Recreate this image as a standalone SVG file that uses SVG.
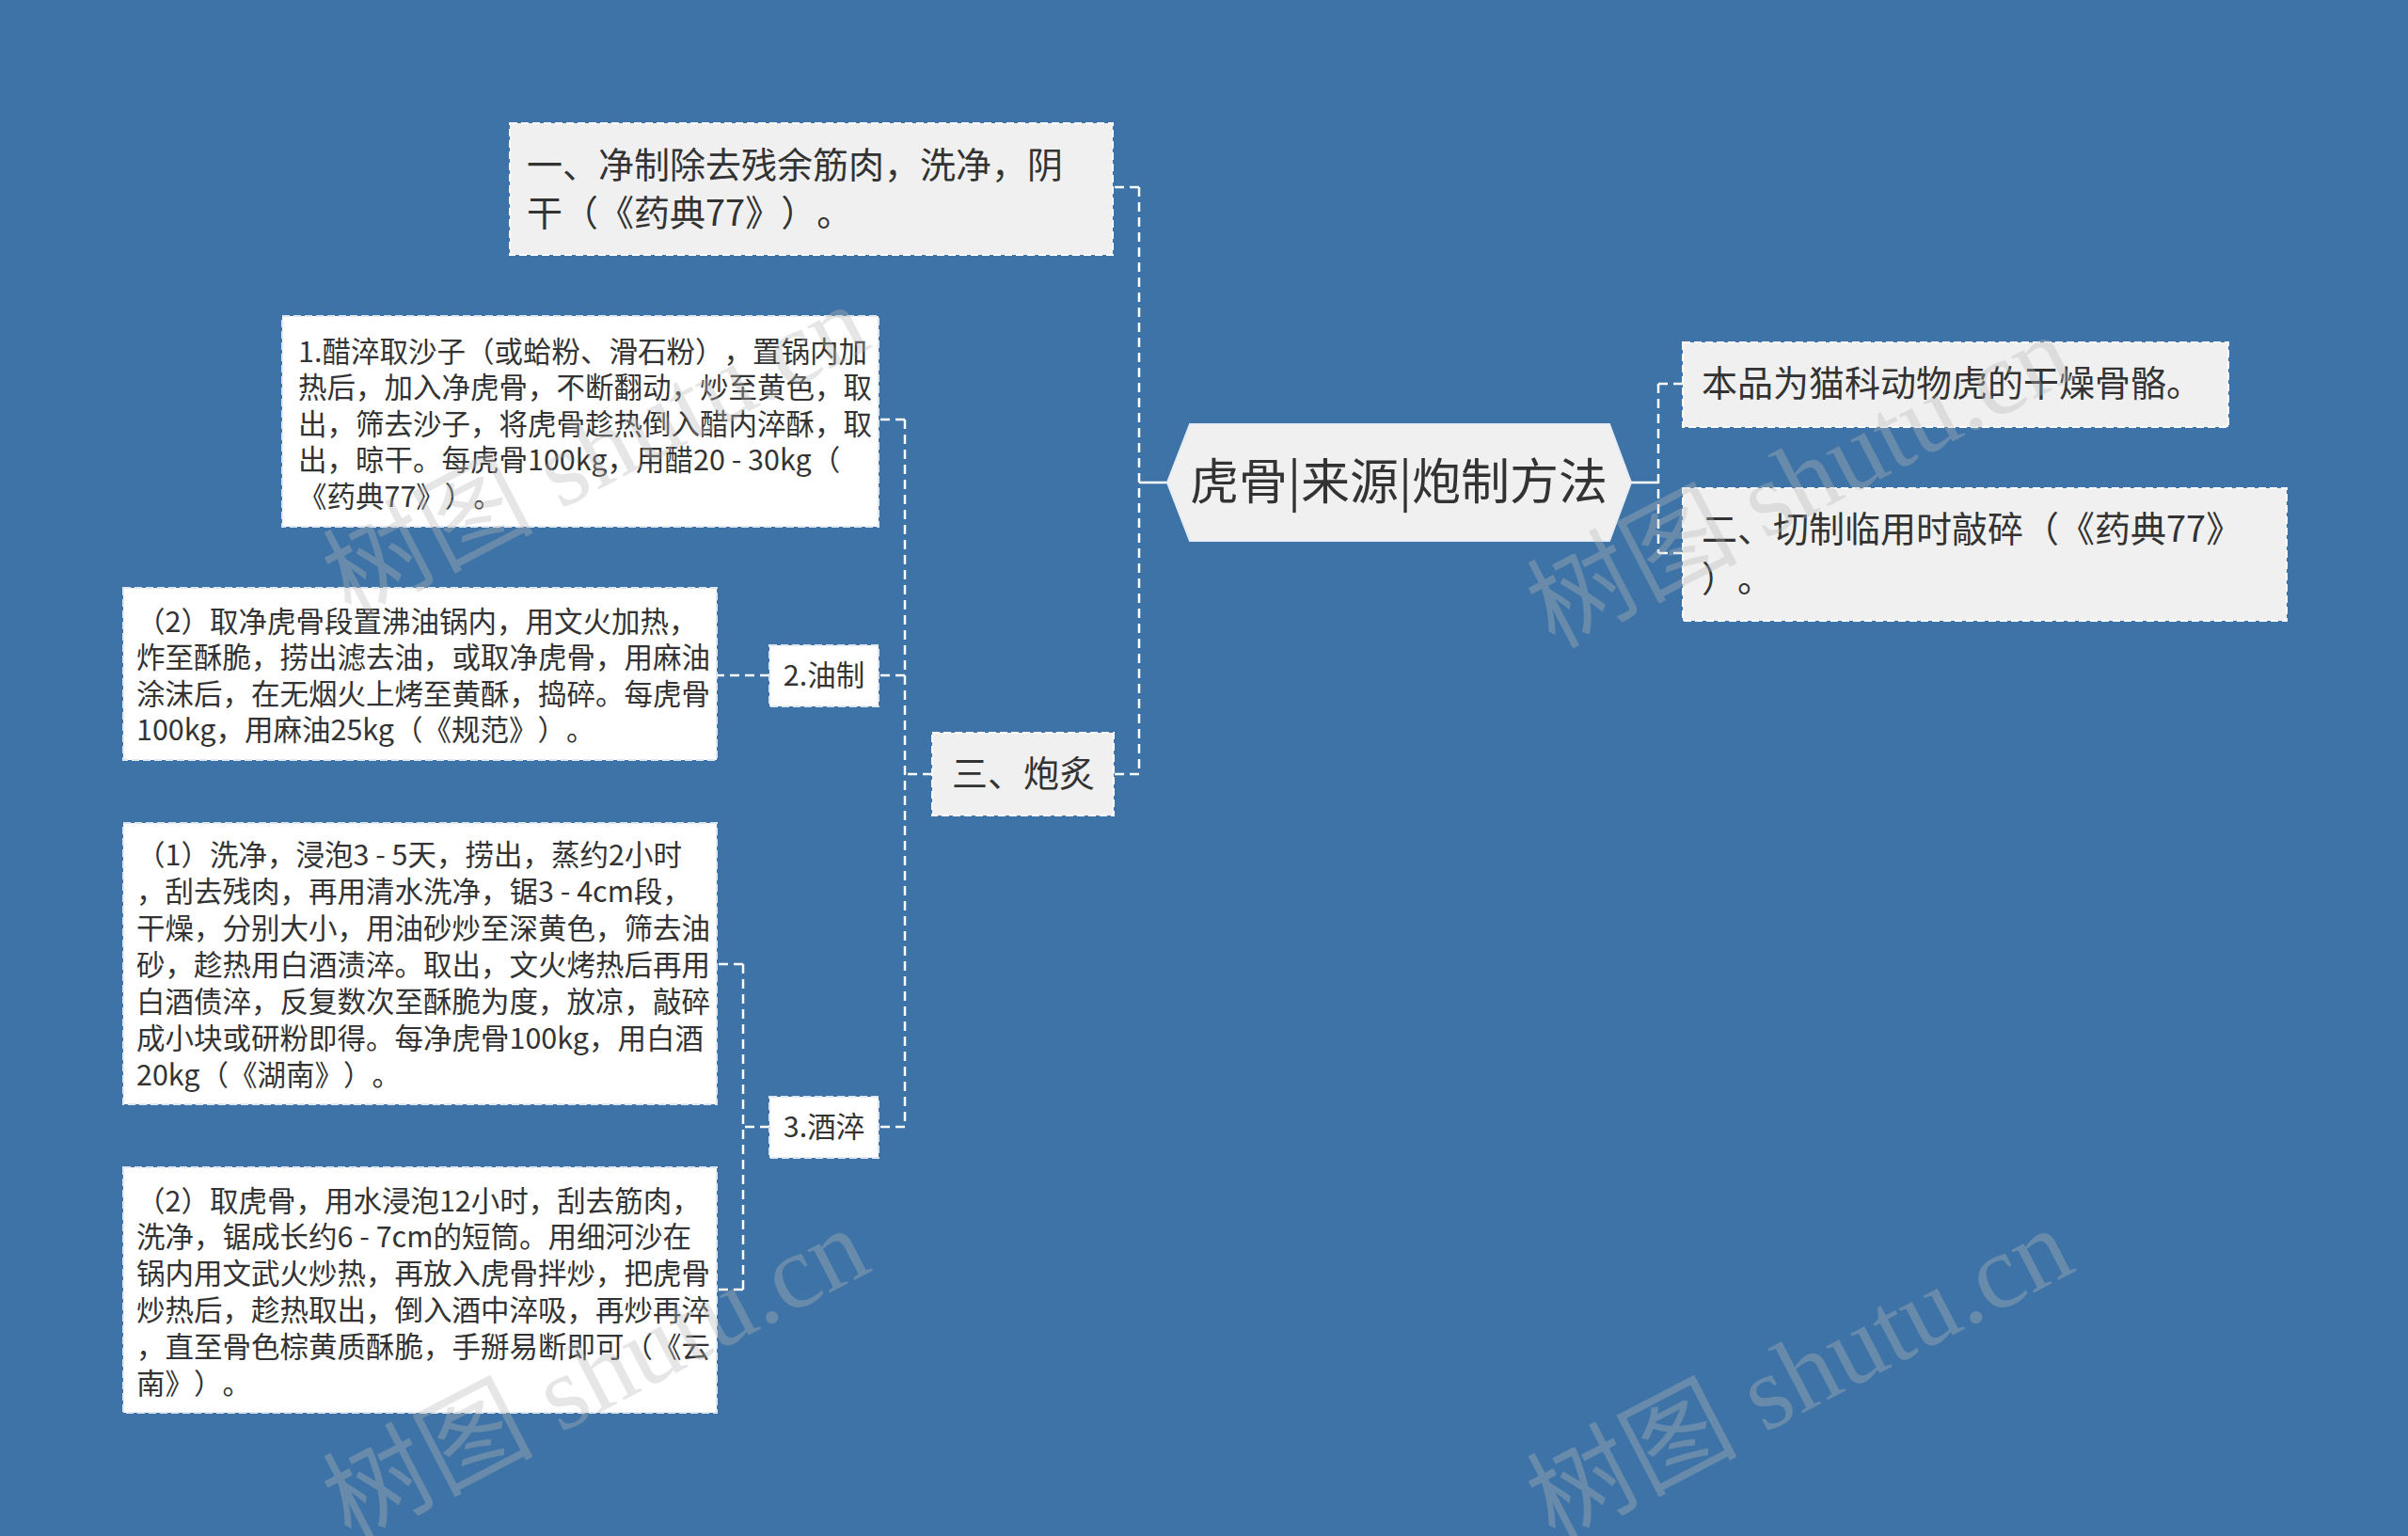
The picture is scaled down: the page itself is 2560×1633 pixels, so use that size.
<svg xmlns="http://www.w3.org/2000/svg" width="2560" height="1633" viewBox="0 0 2560 1633">
<style>
.bg{fill:#3d73a6}
.l1{fill:#f0f0f0;stroke:#ffffff;stroke-width:2;stroke-dasharray:8 4}
.l2{fill:#ffffff;stroke:#dfe8f2;stroke-width:2;stroke-dasharray:8 4}
.t{font-family:"Noto Sans CJK SC","Noto Sans",sans-serif;fill:#333333;font-feature-settings:"chws" 0,"halt" 0,"palt" 0;text-spacing-trim:space-all}
.t38{font-size:38px}
.t30{font-size:30.5px}
.c{fill:none;stroke:#ffffff;stroke-width:2.5;stroke-dasharray:10 6}
.wm{font-family:"Liberation Serif","Noto Sans CJK SC",serif;font-size:112px;fill:#b8b8b8;opacity:0.35}
</style>
<rect class="bg" x="0" y="0" width="2560" height="1633"/>
<g id="connectors">
<line x1="1211" y1="513" x2="1241" y2="513" stroke="#ffffff" stroke-width="2.5"/>
<path class="c" d="M1211 199 V823 M1211 199 H1184 M1211 823 H1184"/>
<line x1="1734" y1="513" x2="1763" y2="513" stroke="#ffffff" stroke-width="2.5"/>
<path class="c" d="M1763 408 V588 M1763 408 H1789 M1763 588 H1789"/>
<path class="c" d="M991 823 H962 M962 446 V1198 M962 446 H934 M962 718 H934 M962 1198 H934"/>
<path class="c" d="M818 718 H762"/>
<path class="c" d="M818 1198 H790 M790 1025 V1371 M790 1025 H762 M790 1371 H762"/>
</g>
<g id="root">
<polygon points="1241,513 1265,451 1711,451 1734,513 1711,575 1265,575" fill="#f0f0f0" stroke="#e6ecf3" stroke-width="2"/>
<text class="t" x="1487" y="531" font-size="52" text-anchor="middle">虎骨|来源|炮制方法</text>
</g>
<g id="n-jingzhi">
<rect class="l1" x="542" y="131" width="641" height="140"/>
<text class="t t38" x="560" y="189">一、净制除去残余筋肉，洗净，阴</text>
<text class="t t38" x="560" y="240">干（《药典77》）。</text>
</g>
<g id="n-laiyuan">
<rect class="l1" x="1789" y="364" width="580" height="90"/>
<text class="t t38" x="1809" y="421">本品为猫科动物虎的干燥骨骼。</text>
</g>
<g id="n-qiezhi">
<rect class="l1" x="1789" y="519" width="642" height="141"/>
<text class="t t38" x="1809" y="576">二、切制临用时敲碎（《药典77》</text>
<text class="t t38" x="1809" y="629">）。</text>
</g>
<g id="n-paozhi">
<rect class="l1" x="991" y="779" width="193" height="88"/>
<text class="t t38" x="1088" y="836" text-anchor="middle">三、炮炙</text>
</g>
<g id="n-cuicui">
<rect class="l2" x="300" y="336" width="634" height="224"/>
<text class="t t30" x="317" y="384.5">1.醋淬取沙子（或蛤粉、滑石粉），置锅内加</text>
<text class="t t30" x="317" y="423">热后，加入净虎骨，不断翻动，炒至黄色，取</text>
<text class="t t30" x="317" y="461.5">出，筛去沙子，将虎骨趁热倒入醋内淬酥，取</text>
<text class="t t30" x="317" y="500">出，晾干。每虎骨100kg，用醋20 - 30kg（</text>
<text class="t t30" x="317" y="538.5">《药典77》）。</text>
</g>
<g id="n-youzhi">
<rect class="l2" x="818" y="686" width="116" height="65"/>
<text class="t t30" x="876" y="728.5" text-anchor="middle">2.油制</text>
</g>
<g id="n-youzhi-2">
<rect class="l2" x="131" y="625" width="631" height="183"/>
<text class="t t30" x="145" y="671.5">（2）取净虎骨段置沸油锅内，用文火加热，</text>
<text class="t t30" x="145" y="710">炸至酥脆，捞出滤去油，或取净虎骨，用麻油</text>
<text class="t t30" x="145" y="748.5">涂沫后，在无烟火上烤至黄酥，捣碎。每虎骨</text>
<text class="t t30" x="145" y="787">100kg，用麻油25kg（《规范》）。</text>
</g>
<g id="n-jiucui">
<rect class="l2" x="818" y="1166" width="116" height="65"/>
<text class="t t30" x="876" y="1208.5" text-anchor="middle">3.酒淬</text>
</g>
<g id="n-jiucui-1">
<rect class="l2" x="131" y="875" width="631" height="299"/>
<text class="t t30" x="145" y="919.5">（1）洗净，浸泡3 - 5天，捞出，蒸约2小时</text>
<text class="t t30" x="145" y="958.5">，刮去残肉，再用清水洗净，锯3 - 4cm段，</text>
<text class="t t30" x="145" y="997.5">干燥，分别大小，用油砂炒至深黄色，筛去油</text>
<text class="t t30" x="145" y="1036.5">砂，趁热用白酒渍淬。取出，文火烤热后再用</text>
<text class="t t30" x="145" y="1075.5">白酒债淬，反复数次至酥脆为度，放凉，敲碎</text>
<text class="t t30" x="145" y="1114.5">成小块或研粉即得。每净虎骨100kg，用白酒</text>
<text class="t t30" x="145" y="1153.5">20kg（《湖南》）。</text>
</g>
<g id="n-jiucui-2">
<rect class="l2" x="131" y="1241" width="631" height="261"/>
<text class="t t30" x="145" y="1287.5">（2）取虎骨，用水浸泡12小时，刮去筋肉，</text>
<text class="t t30" x="145" y="1326.3">洗净，锯成长约6 - 7cm的短筒。用细河沙在</text>
<text class="t t30" x="145" y="1365.1">锅内用文武火炒热，再放入虎骨拌炒，把虎骨</text>
<text class="t t30" x="145" y="1403.9">炒热后，趁热取出，倒入酒中淬吸，再炒再淬</text>
<text class="t t30" x="145" y="1442.7">，直至骨色棕黄质酥脆，手掰易断即可（《云</text>
<text class="t t30" x="145" y="1481.5">南》）。</text>
</g>
<g id="watermarks">
<text class="wm" transform="translate(372,658) rotate(-27.5)">树图 shutu.cn</text>
<text class="wm" transform="translate(1652,690) rotate(-27.5)">树图 shutu.cn</text>
<text class="wm" transform="translate(372,1640) rotate(-27.5)">树图 shutu.cn</text>
<text class="wm" transform="translate(1652,1640) rotate(-27.5)">树图 shutu.cn</text>
</g>
</svg>
